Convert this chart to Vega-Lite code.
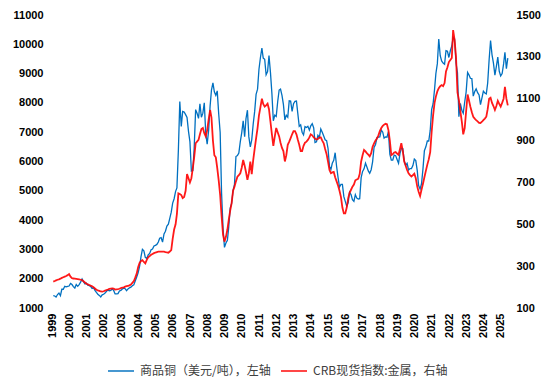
{
"$schema":"https://vega.github.io/schema/vega-lite/v6.json",
"width":456,"height":293,
"autosize":{"type":"none"},
"padding":{"left":52,"top":15,"right":47,"bottom":79},
"background":"white",
"data":{"values":[
{"d":"1999-01-28","cu":1420,"crb":226},{"d":"1999-02-28","cu":1410,"crb":229},{"d":"1999-03-28","cu":1375,"crb":232},{"d":"1999-04-28","cu":1460,"crb":235},{"d":"1999-05-28","cu":1510,"crb":237},{"d":"1999-06-28","cu":1420,"crb":240},{"d":"1999-07-28","cu":1640,"crb":244},{"d":"1999-08-28","cu":1640,"crb":247},{"d":"1999-09-28","cu":1740,"crb":250},{"d":"1999-10-28","cu":1720,"crb":253},{"d":"1999-11-28","cu":1740,"crb":257},{"d":"1999-12-28","cu":1750,"crb":262},
{"d":"2000-01-28","cu":1840,"crb":250},{"d":"2000-02-28","cu":1800,"crb":242},{"d":"2000-03-28","cu":1730,"crb":241},{"d":"2000-04-28","cu":1680,"crb":240},{"d":"2000-05-28","cu":1800,"crb":239},{"d":"2000-06-28","cu":1740,"crb":238},{"d":"2000-07-28","cu":1800,"crb":237},{"d":"2000-08-28","cu":1880,"crb":235},{"d":"2000-09-28","cu":1990,"crb":233},{"d":"2000-10-28","cu":1900,"crb":228},{"d":"2000-11-28","cu":1820,"crb":222},{"d":"2000-12-28","cu":1850,"crb":216},
{"d":"2001-01-28","cu":1780,"crb":213},{"d":"2001-02-28","cu":1760,"crb":210},{"d":"2001-03-28","cu":1740,"crb":207},{"d":"2001-04-28","cu":1670,"crb":204},{"d":"2001-05-28","cu":1690,"crb":199},{"d":"2001-06-28","cu":1600,"crb":193},{"d":"2001-07-28","cu":1530,"crb":187},{"d":"2001-08-28","cu":1470,"crb":184},{"d":"2001-09-28","cu":1430,"crb":182},{"d":"2001-10-28","cu":1380,"crb":179},{"d":"2001-11-28","cu":1450,"crb":178},{"d":"2001-12-28","cu":1470,"crb":180},
{"d":"2002-01-28","cu":1510,"crb":183},{"d":"2002-02-28","cu":1570,"crb":186},{"d":"2002-03-28","cu":1610,"crb":188},{"d":"2002-04-28","cu":1590,"crb":191},{"d":"2002-05-28","cu":1600,"crb":193},{"d":"2002-06-28","cu":1650,"crb":194},{"d":"2002-07-28","cu":1600,"crb":193},{"d":"2002-08-28","cu":1480,"crb":188},{"d":"2002-09-28","cu":1480,"crb":189},{"d":"2002-10-28","cu":1490,"crb":190},{"d":"2002-11-28","cu":1580,"crb":192},{"d":"2002-12-28","cu":1600,"crb":195},
{"d":"2003-01-28","cu":1650,"crb":197},{"d":"2003-02-28","cu":1680,"crb":199},{"d":"2003-03-28","cu":1660,"crb":202},{"d":"2003-04-28","cu":1590,"crb":204},{"d":"2003-05-28","cu":1650,"crb":206},{"d":"2003-06-28","cu":1690,"crb":208},{"d":"2003-07-28","cu":1710,"crb":212},{"d":"2003-08-28","cu":1760,"crb":220},{"d":"2003-09-28","cu":1790,"crb":228},{"d":"2003-10-28","cu":1920,"crb":245},{"d":"2003-11-28","cu":2060,"crb":264},{"d":"2003-12-28","cu":2200,"crb":295},
{"d":"2004-01-28","cu":2420,"crb":315},{"d":"2004-02-28","cu":2760,"crb":325},{"d":"2004-03-28","cu":3000,"crb":329},{"d":"2004-04-28","cu":2950,"crb":320},{"d":"2004-05-28","cu":2730,"crb":313},{"d":"2004-06-28","cu":2690,"crb":330},{"d":"2004-07-28","cu":2810,"crb":342},{"d":"2004-08-28","cu":2860,"crb":348},{"d":"2004-09-28","cu":2990,"crb":354},{"d":"2004-10-28","cu":3010,"crb":358},{"d":"2004-11-28","cu":3120,"crb":362},{"d":"2004-12-28","cu":3140,"crb":365},
{"d":"2005-01-28","cu":3170,"crb":367},{"d":"2005-02-28","cu":3250,"crb":369},{"d":"2005-03-28","cu":3380,"crb":369},{"d":"2005-04-28","cu":3400,"crb":369},{"d":"2005-05-28","cu":3250,"crb":369},{"d":"2005-06-28","cu":3530,"crb":369},{"d":"2005-07-28","cu":3620,"crb":367},{"d":"2005-08-28","cu":3800,"crb":366},{"d":"2005-09-28","cu":3860,"crb":364},{"d":"2005-10-28","cu":4060,"crb":370},{"d":"2005-11-28","cu":4270,"crb":377},{"d":"2005-12-28","cu":4580,"crb":430},
{"d":"2006-01-28","cu":4730,"crb":475},{"d":"2006-02-28","cu":4980,"crb":500},{"d":"2006-03-28","cu":5100,"crb":550},{"d":"2006-04-28","cu":6390,"crb":648},{"d":"2006-05-28","cu":8050,"crb":645},{"d":"2006-06-28","cu":7200,"crb":640},{"d":"2006-07-28","cu":7710,"crb":625},{"d":"2006-08-28","cu":7690,"crb":630},{"d":"2006-09-28","cu":7600,"crb":660},{"d":"2006-10-28","cu":7500,"crb":740},{"d":"2006-11-28","cu":7030,"crb":720},{"d":"2006-12-28","cu":6680,"crb":700},
{"d":"2007-01-28","cu":5670,"crb":720},{"d":"2007-02-28","cu":5690,"crb":770},{"d":"2007-03-28","cu":6450,"crb":820},{"d":"2007-04-28","cu":7770,"crb":887},{"d":"2007-05-28","cu":7650,"crb":895},{"d":"2007-06-28","cu":7470,"crb":903},{"d":"2007-07-28","cu":7970,"crb":930},{"d":"2007-08-28","cu":7510,"crb":955},{"d":"2007-09-28","cu":7650,"crb":960},{"d":"2007-10-28","cu":8000,"crb":935},{"d":"2007-11-28","cu":6960,"crb":920},{"d":"2007-12-28","cu":6590,"crb":950},
{"d":"2008-01-28","cu":7060,"crb":1000},{"d":"2008-02-28","cu":7890,"crb":1046},{"d":"2008-03-28","cu":8440,"crb":1010},{"d":"2008-04-28","cu":8680,"crb":900},{"d":"2008-05-28","cu":8380,"crb":830},{"d":"2008-06-28","cu":8260,"crb":820},{"d":"2008-07-28","cu":8410,"crb":770},{"d":"2008-08-28","cu":7630,"crb":710},{"d":"2008-09-28","cu":6990,"crb":640},{"d":"2008-10-28","cu":4920,"crb":540},{"d":"2008-11-28","cu":3720,"crb":450},{"d":"2008-12-28","cu":3070,"crb":417},
{"d":"2009-01-28","cu":3220,"crb":440},{"d":"2009-02-28","cu":3310,"crb":475},{"d":"2009-03-28","cu":3750,"crb":520},{"d":"2009-04-28","cu":4410,"crb":565},{"d":"2009-05-28","cu":4570,"crb":600},{"d":"2009-06-28","cu":5010,"crb":660},{"d":"2009-07-28","cu":5220,"crb":680},{"d":"2009-08-28","cu":6170,"crb":705},{"d":"2009-09-28","cu":6200,"crb":727},{"d":"2009-10-28","cu":6290,"crb":735},{"d":"2009-11-28","cu":6680,"crb":744},{"d":"2009-12-28","cu":6980,"crb":770},
{"d":"2010-01-28","cu":7390,"crb":807},{"d":"2010-02-28","cu":6850,"crb":780},{"d":"2010-03-28","cu":7460,"crb":750},{"d":"2010-04-28","cu":7750,"crb":712},{"d":"2010-05-28","cu":6840,"crb":744},{"d":"2010-06-28","cu":6500,"crb":800},{"d":"2010-07-28","cu":6740,"crb":740},{"d":"2010-08-28","cu":7280,"crb":807},{"d":"2010-09-28","cu":7710,"crb":860},{"d":"2010-10-28","cu":8290,"crb":910},{"d":"2010-11-28","cu":8470,"crb":960},{"d":"2010-12-28","cu":9150,"crb":1020},
{"d":"2011-01-28","cu":9550,"crb":1060},{"d":"2011-02-28","cu":9870,"crb":1100},{"d":"2011-03-28","cu":9530,"crb":1075},{"d":"2011-04-28","cu":9490,"crb":1062},{"d":"2011-05-28","cu":8960,"crb":1068},{"d":"2011-06-28","cu":9070,"crb":1076},{"d":"2011-07-28","cu":9620,"crb":1050},{"d":"2011-08-28","cu":9040,"crb":990},{"d":"2011-09-28","cu":8310,"crb":930},{"d":"2011-10-28","cu":7390,"crb":875},{"d":"2011-11-28","cu":7580,"crb":920},{"d":"2011-12-28","cu":7540,"crb":960},
{"d":"2012-01-28","cu":8040,"crb":940},{"d":"2012-02-28","cu":8440,"crb":920},{"d":"2012-03-28","cu":8470,"crb":890},{"d":"2012-04-28","cu":8260,"crb":865},{"d":"2012-05-28","cu":7950,"crb":850},{"d":"2012-06-28","cu":7420,"crb":800},{"d":"2012-07-28","cu":7580,"crb":830},{"d":"2012-08-28","cu":7510,"crb":880},{"d":"2012-09-28","cu":8070,"crb":895},{"d":"2012-10-28","cu":8060,"crb":912},{"d":"2012-11-28","cu":7710,"crb":930},{"d":"2012-12-28","cu":7970,"crb":945},
{"d":"2013-01-28","cu":8050,"crb":945},{"d":"2013-02-28","cu":8060,"crb":930},{"d":"2013-03-28","cu":7650,"crb":905},{"d":"2013-04-28","cu":7200,"crb":880},{"d":"2013-05-28","cu":7250,"crb":850},{"d":"2013-06-28","cu":7000,"crb":850},{"d":"2013-07-28","cu":6910,"crb":875},{"d":"2013-08-28","cu":7190,"crb":890},{"d":"2013-09-28","cu":7160,"crb":895},{"d":"2013-10-28","cu":7200,"crb":903},{"d":"2013-11-28","cu":7070,"crb":915},{"d":"2013-12-28","cu":7220,"crb":930},
{"d":"2014-01-28","cu":7290,"crb":925},{"d":"2014-02-28","cu":7150,"crb":915},{"d":"2014-03-28","cu":6650,"crb":910},{"d":"2014-04-28","cu":6670,"crb":905},{"d":"2014-05-28","cu":6890,"crb":908},{"d":"2014-06-28","cu":6820,"crb":915},{"d":"2014-07-28","cu":7110,"crb":915},{"d":"2014-08-28","cu":7000,"crb":900},{"d":"2014-09-28","cu":6870,"crb":887},{"d":"2014-10-28","cu":6740,"crb":860},{"d":"2014-11-28","cu":6710,"crb":835},{"d":"2014-12-28","cu":6450,"crb":800},
{"d":"2015-01-28","cu":5830,"crb":760},{"d":"2015-02-28","cu":5730,"crb":744},{"d":"2015-03-28","cu":5940,"crb":748},{"d":"2015-04-28","cu":6040,"crb":750},{"d":"2015-05-28","cu":6300,"crb":725},{"d":"2015-06-28","cu":5830,"crb":705},{"d":"2015-07-28","cu":5460,"crb":685},{"d":"2015-08-28","cu":5130,"crb":660},{"d":"2015-09-28","cu":5220,"crb":630},{"d":"2015-10-28","cu":5220,"crb":580},{"d":"2015-11-28","cu":4800,"crb":552},{"d":"2015-12-28","cu":4640,"crb":552},
{"d":"2016-01-28","cu":4470,"crb":580},{"d":"2016-02-28","cu":4600,"crb":625},{"d":"2016-03-28","cu":4950,"crb":650},{"d":"2016-04-28","cu":4870,"crb":665},{"d":"2016-05-28","cu":4700,"crb":680},{"d":"2016-06-28","cu":4640,"crb":690},{"d":"2016-07-28","cu":4870,"crb":710},{"d":"2016-08-28","cu":4750,"crb":714},{"d":"2016-09-28","cu":4720,"crb":718},{"d":"2016-10-28","cu":4730,"crb":740},{"d":"2016-11-28","cu":5450,"crb":800},{"d":"2016-12-28","cu":5660,"crb":830},
{"d":"2017-01-28","cu":5750,"crb":855},{"d":"2017-02-28","cu":5940,"crb":848},{"d":"2017-03-28","cu":5820,"crb":840},{"d":"2017-04-28","cu":5680,"crb":833},{"d":"2017-05-28","cu":5600,"crb":825},{"d":"2017-06-28","cu":5720,"crb":840},{"d":"2017-07-28","cu":5990,"crb":870},{"d":"2017-08-28","cu":6480,"crb":887},{"d":"2017-09-28","cu":6580,"crb":900},{"d":"2017-10-28","cu":6810,"crb":910},{"d":"2017-11-28","cu":6830,"crb":925},{"d":"2017-12-28","cu":6840,"crb":945},
{"d":"2018-01-28","cu":7070,"crb":960},{"d":"2018-02-28","cu":7000,"crb":970},{"d":"2018-03-28","cu":6800,"crb":976},{"d":"2018-04-28","cu":6840,"crb":980},{"d":"2018-05-28","cu":6830,"crb":978},{"d":"2018-06-28","cu":7020,"crb":950},{"d":"2018-07-28","cu":6250,"crb":900},{"d":"2018-08-28","cu":6050,"crb":830},{"d":"2018-09-28","cu":6050,"crb":835},{"d":"2018-10-28","cu":6220,"crb":843},{"d":"2018-11-28","cu":6200,"crb":845},{"d":"2018-12-28","cu":6070,"crb":838},
{"d":"2019-01-28","cu":5940,"crb":832},{"d":"2019-02-28","cu":6280,"crb":860},{"d":"2019-03-28","cu":6440,"crb":887},{"d":"2019-04-28","cu":6440,"crb":850},{"d":"2019-05-28","cu":6030,"crb":800},{"d":"2019-06-28","cu":5870,"crb":780},{"d":"2019-07-28","cu":5940,"crb":760},{"d":"2019-08-28","cu":5710,"crb":744},{"d":"2019-09-28","cu":5760,"crb":735},{"d":"2019-10-28","cu":5760,"crb":728},{"d":"2019-11-28","cu":5860,"crb":735},{"d":"2019-12-28","cu":6080,"crb":742},
{"d":"2020-01-28","cu":6030,"crb":720},{"d":"2020-02-28","cu":5690,"crb":680},{"d":"2020-03-28","cu":5180,"crb":655},{"d":"2020-04-28","cu":5060,"crb":635},{"d":"2020-05-28","cu":5240,"crb":665},{"d":"2020-06-28","cu":5750,"crb":694},{"d":"2020-07-28","cu":6370,"crb":725},{"d":"2020-08-28","cu":6500,"crb":755},{"d":"2020-09-28","cu":6700,"crb":785},{"d":"2020-10-28","cu":6700,"crb":810},{"d":"2020-11-28","cu":7060,"crb":845},{"d":"2020-12-28","cu":7770,"crb":940},
{"d":"2021-01-28","cu":7970,"crb":1020},{"d":"2021-02-28","cu":8460,"crb":1080},{"d":"2021-03-28","cu":9000,"crb":1110},{"d":"2021-04-28","cu":9340,"crb":1135},{"d":"2021-05-28","cu":10180,"crb":1150},{"d":"2021-06-28","cu":9610,"crb":1160},{"d":"2021-07-28","cu":9430,"crb":1165},{"d":"2021-08-28","cu":9360,"crb":1160},{"d":"2021-09-28","cu":9320,"crb":1175},{"d":"2021-10-28","cu":9780,"crb":1230},{"d":"2021-11-28","cu":9760,"crb":1250},{"d":"2021-12-28","cu":9550,"crb":1275},
{"d":"2022-01-28","cu":9780,"crb":1285},{"d":"2022-02-28","cu":9940,"crb":1295},{"d":"2022-03-28","cu":10240,"crb":1428},{"d":"2022-04-28","cu":10180,"crb":1380},{"d":"2022-05-28","cu":9360,"crb":1300},{"d":"2022-06-28","cu":9030,"crb":1130},{"d":"2022-07-28","cu":7530,"crb":1094},{"d":"2022-08-28","cu":7980,"crb":1040},{"d":"2022-09-28","cu":7750,"crb":990},{"d":"2022-10-28","cu":7650,"crb":930},{"d":"2022-11-28","cu":8030,"crb":960},{"d":"2022-12-28","cu":8370,"crb":1040},
{"d":"2023-01-28","cu":9040,"crb":1120},{"d":"2023-02-28","cu":8950,"crb":1090},{"d":"2023-03-28","cu":8840,"crb":1062},{"d":"2023-04-28","cu":8830,"crb":1035},{"d":"2023-05-28","cu":8230,"crb":1014},{"d":"2023-06-28","cu":8390,"crb":1005},{"d":"2023-07-28","cu":8480,"crb":998},{"d":"2023-08-28","cu":8350,"crb":992},{"d":"2023-09-28","cu":8270,"crb":985},{"d":"2023-10-28","cu":7940,"crb":984},{"d":"2023-11-28","cu":8170,"crb":990},{"d":"2023-12-28","cu":8400,"crb":998},
{"d":"2024-01-28","cu":8340,"crb":1005},{"d":"2024-02-28","cu":8310,"crb":1014},{"d":"2024-03-28","cu":8680,"crb":1050},{"d":"2024-04-28","cu":9480,"crb":1100},{"d":"2024-05-28","cu":10130,"crb":1105},{"d":"2024-06-28","cu":9640,"crb":1080},{"d":"2024-07-28","cu":9360,"crb":1065},{"d":"2024-08-28","cu":8950,"crb":1046},{"d":"2024-09-28","cu":9250,"crb":1065},{"d":"2024-10-28","cu":9560,"crb":1090},{"d":"2024-11-28","cu":9080,"crb":1075},{"d":"2024-12-28","cu":8920,"crb":1062},
{"d":"2025-01-28","cu":9000,"crb":1080},{"d":"2025-02-28","cu":9330,"crb":1100},{"d":"2025-03-28","cu":9730,"crb":1157},{"d":"2025-04-28","cu":9170,"crb":1100},{"d":"2025-05-28","cu":9530,"crb":1068}
]},
"encoding":{
"x":{"field":"d","type":"temporal",
"scale":{"domain":[{"year":1999,"month":1,"date":1},{"year":2025,"month":6,"date":1}]},
"axis":{"format":"%Y","labelAngle":-90,"labelPadding":5,
"values":[{"year":1999},{"year":2000},{"year":2001},{"year":2002},{"year":2003},{"year":2004},{"year":2005},{"year":2006},{"year":2007},{"year":2008},{"year":2009},{"year":2010},{"year":2011},{"year":2012},{"year":2013},{"year":2014},{"year":2015},{"year":2016},{"year":2017},{"year":2018},{"year":2019},{"year":2020},{"year":2021},{"year":2022},{"year":2023},{"year":2024},{"year":2025}]}}
},
"layer":[
{"mark":{"type":"line","strokeWidth":1.3,"interpolate":"linear"},
 "encoding":{
  "y":{"field":"cu","type":"quantitative","scale":{"domain":[1000,11000],"nice":false,"zero":false},
   "axis":{"orient":"left","values":[1000,2000,3000,4000,5000,6000,7000,8000,9000,10000,11000],"labelPadding":9,"format":"d"}},
  "color":{"datum":"商品铜（美元/吨），左轴"}}},
{"mark":{"type":"line","strokeWidth":1.8,"opacity":0.9},
 "encoding":{
  "y":{"field":"crb","type":"quantitative","scale":{"domain":[100,1500],"nice":false,"zero":false},
   "axis":{"orient":"right","values":[100,300,500,700,900,1100,1300,1500],"labelPadding":8,"format":"d"}},
  "color":{"datum":"CRB现货指数:金属，右轴"}}}
],
"resolve":{"scale":{"y":"independent"},"axis":{"y":"independent"}},
"config":{"view":{"stroke":null},
 "axis":{"labelFont":"Liberation Sans","labelFontWeight":"bold","labelFontSize":11,"labelColor":"#000000","grid":false,"domain":false,"ticks":false,"tickSize":0,"title":null},
 "range":{"category":["#0070C0","#FF0000"]},
 "legend":{"orient":"none","legendX":55,"legendY":342,"direction":"horizontal","title":null,"symbolType":"stroke","symbolSize":676,"symbolStrokeWidth":1.6,"labelFont":"Noto Sans CJK SC","labelFontSize":12,"labelColor":"#404040","labelOffset":5,"columnPadding":6,"padding":0}
}
}
